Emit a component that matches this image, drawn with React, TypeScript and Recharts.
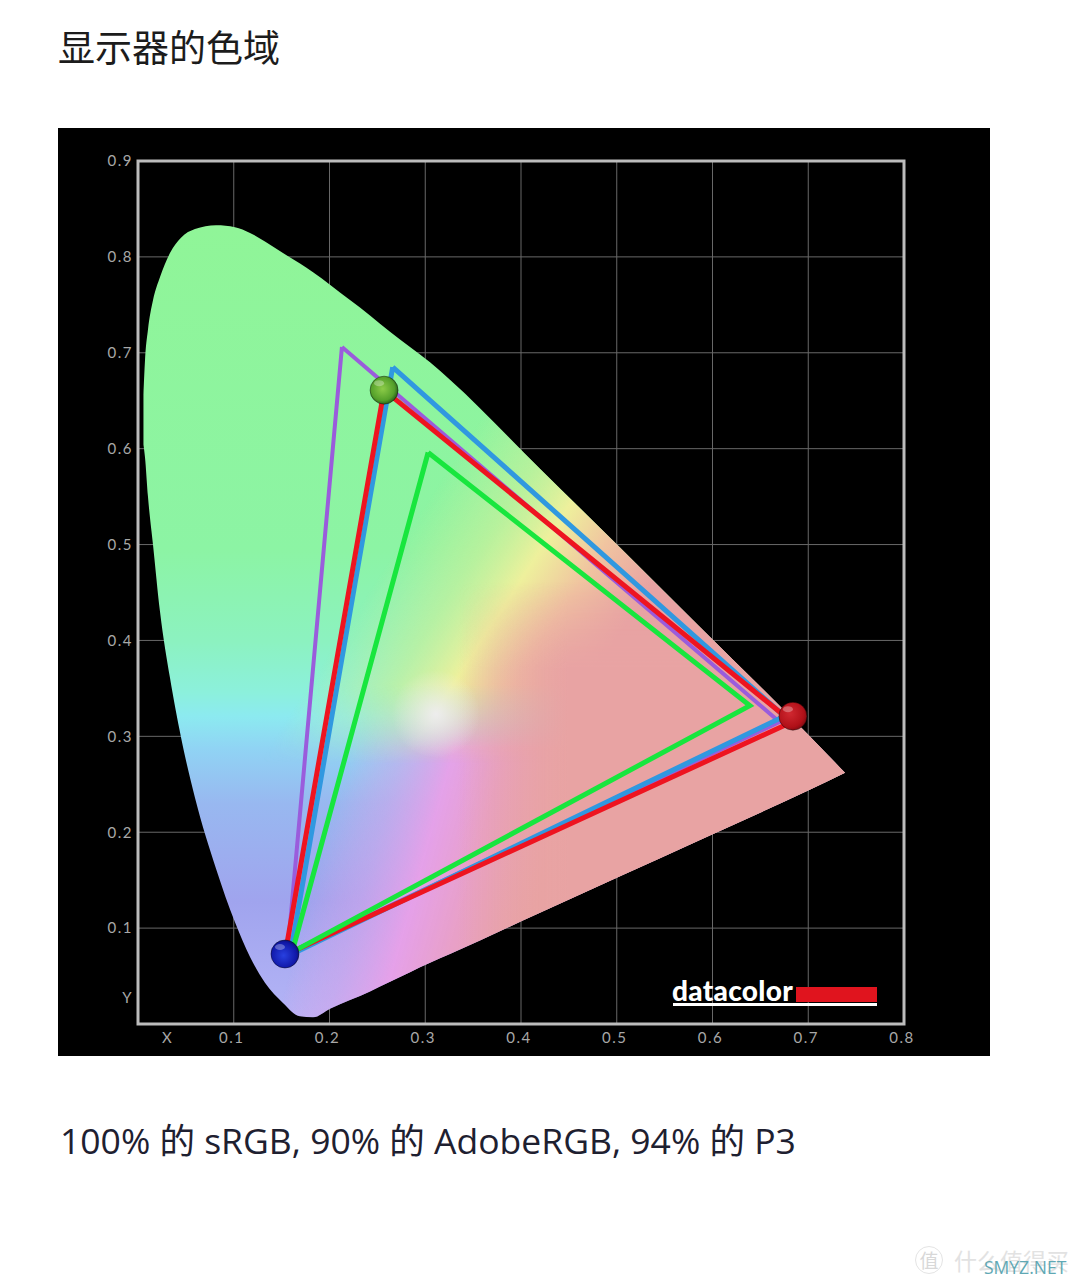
import {
  Area,
  CartesianGrid,
  ComposedChart,
  ReferenceArea,
  Scatter,
  XAxis,
  YAxis,
} from "recharts";

// horseshoe outline at shared x positions
const gamutX = [0.0057, 0.0073, 0.0104, 0.0157, 0.023, 0.0334, 0.0449, 0.0595, 0.0815, 0.1013, 0.117, 0.1326, 0.1514, 0.1692, 0.1828, 0.2005, 0.2214, 0.2423, 0.2632, 0.305, 0.3258, 0.4198, 0.5034, 0.5869, 0.6987, 0.7384];
const gamutHigh = [0.656, 0.692, 0.724, 0.755, 0.779, 0.804, 0.82, 0.829, 0.833, 0.831, 0.825, 0.816, 0.804, 0.793, 0.784, 0.771, 0.755, 0.739, 0.722, 0.69, 0.672, 0.579, 0.497, 0.414, 0.303, 0.262];
const gamutLow = [0.604, 0.591, 0.55, 0.4995, 0.43, 0.361, 0.299, 0.236, 0.162, 0.106, 0.07, 0.043, 0.022, 0.008, 0.007, 0.016, 0.025, 0.034, 0.044, 0.064, 0.073, 0.116, 0.154, 0.192, 0.243, 0.262];

// triangles: green corner, red corner, blue corner, back to green
const purpleTriangle = [[0.213, 0.706], [0.67, 0.315], [0.156, 0.073], [0.213, 0.706]];
const blueTriangle = [[0.266, 0.685], [0.675, 0.321], [0.159, 0.072], [0.266, 0.685]];
const redTriangle = [[0.257, 0.661], [0.683, 0.315], [0.1535, 0.072], [0.257, 0.661]];
const greenTriangle = [[0.303, 0.596], [0.639, 0.332], [0.161, 0.075], [0.303, 0.596]];

const primaries = [
  { x: 0.257, y: 0.661, ball: "ballGreen" },
  { x: 0.684, y: 0.321, ball: "ballRed" },
  { x: 0.1535, y: 0.073, ball: "ballBlue" },
];

const xTicks = [0.033, 0.1, 0.2, 0.3, 0.4, 0.5, 0.6, 0.7, 0.8];
const yTicks = [0.027, 0.1, 0.2, 0.3, 0.4, 0.5, 0.6, 0.7, 0.8, 0.9];
const gridX = [0.1, 0.2, 0.3, 0.4, 0.5, 0.6, 0.7];
const gridY = [0.1, 0.2, 0.3, 0.4, 0.5, 0.6, 0.7, 0.8];

const gamutData = gamutX.map((x, i) => ({ x, range: [gamutLow[i], gamutHigh[i]] }));
const toPoints = (rows: number[][]) => rows.map(([x, y]) => ({ x, y }));

const tickStyle = { fill: "#a8a8a8", fontSize: 15, fontFamily: "Lato", letterSpacing: 1.5 };

function hideDot() {
  return <g />;
}

function Ball(props: { cx?: number; cy?: number; payload?: { ball: string } }) {
  const { cx = 0, cy = 0, payload } = props;
  return (
    <g>
      <circle cx={cx} cy={cy} r={14} fill={`url(#${payload?.ball})`} stroke="#00000066" strokeWidth={1} />
      <ellipse cx={cx - 5} cy={cy - 7} rx={5} ry={3} fill="#ffffff" opacity={0.3} />
    </g>
  );
}

const layerProps = {
  data: gamutData,
  dataKey: "range",
  type: "monotone" as const,
  stroke: "none",
  fillOpacity: 1,
  isAnimationActive: false,
  dot: false,
  activeDot: false,
};

export default function App() {
  const triangles: [string, number[][], string, number][] = [
    ["purple", purpleTriangle, "#9a5cdc", 4],
    ["blue", blueTriangle, "#3098e0", 5],
    ["red", redTriangle, "#ee1420", 5],
    ["green", greenTriangle, "#18e63e", 5],
  ];

  return (
    <div style={{ position: "absolute", left: 0, top: 0, width: 1080, height: 1286, background: "#ffffff", overflow: "hidden" }}>
      <div style={{ position: "absolute", left: 58, top: 20, fontFamily: "'Noto Sans CJK SC'", fontSize: 37, lineHeight: "52px", color: "#1c1c1c" }}>
        显示器的色域
      </div>

      <div style={{ position: "absolute", left: 58, top: 128, width: 932, height: 928, background: "#000000" }}>
        <ComposedChart width={932} height={928} margin={{ top: 33, right: 86, bottom: 0, left: 0 }}>
          <defs>
            <linearGradient id="gamutBase" x1="0" y1="0" x2="0" y2="1">
              <stop offset="0" stopColor="#90f598" />
              <stop offset="0.41" stopColor="#8cf4a4" />
              <stop offset="0.525" stopColor="#8cf2c0" />
              <stop offset="0.59" stopColor="#8cf0dc" />
              <stop offset="0.62" stopColor="#8ceaf0" />
              <stop offset="0.66" stopColor="#90d4f4" />
              <stop offset="0.73" stopColor="#98b8f0" />
              <stop offset="0.854" stopColor="#a0a4ee" />
              <stop offset="1" stopColor="#b4b4f6" />
            </linearGradient>
            <linearGradient id="gamutMagenta" gradientUnits="userSpaceOnUse" x1={289} y1={636} x2={501} y2={695}>
              <stop offset="0" stopColor="#e8a0e8" stopOpacity={0} />
              <stop offset="0.22" stopColor="#d8a4ea" stopOpacity={0.5} />
              <stop offset="0.45" stopColor="#e8a0e8" stopOpacity={0.95} />
              <stop offset="0.68" stopColor="#e8a0c8" />
              <stop offset="1" stopColor="#e8a3a3" />
            </linearGradient>
            <linearGradient id="gamutYellow" gradientUnits="userSpaceOnUse" x1={341} y1={417} x2={537} y2={544}>
              <stop offset="0" stopColor="#c8f09a" stopOpacity={0} />
              <stop offset="0.3" stopColor="#c8f09a" stopOpacity={0.7} />
              <stop offset="0.52" stopColor="#eef09c" />
              <stop offset="0.74" stopColor="#f0c4a0" />
              <stop offset="1" stopColor="#e8a3a3" />
            </linearGradient>
            <linearGradient id="gamutPink" gradientUnits="userSpaceOnUse" x1={400} y1={0} x2={510} y2={0}>
              <stop offset="0" stopColor="#e8a3a3" stopOpacity={0} />
              <stop offset="1" stopColor="#e8a3a3" />
            </linearGradient>
            <radialGradient id="gamutWhite" gradientUnits="userSpaceOnUse" cx={378} cy={586} r={44}>
              <stop offset="0" stopColor="#f2eef6" stopOpacity={0.85} />
              <stop offset="0.5" stopColor="#f2eef6" stopOpacity={0.4} />
              <stop offset="1" stopColor="#f2eef6" stopOpacity={0} />
            </radialGradient>
            <linearGradient id="fadeBelow" x1="0" y1="0" x2="0" y2="1">
              <stop offset="0.58" stopColor="#ffffff" />
              <stop offset="0.68" stopColor="#000000" />
            </linearGradient>
            <linearGradient id="fadeAbove" x1="0" y1="0" x2="0" y2="1">
              <stop offset="0.58" stopColor="#000000" />
              <stop offset="0.66" stopColor="#ffffff" />
            </linearGradient>
            <linearGradient id="fadeTop" x1="0" y1="0" x2="0" y2="1">
              <stop offset="0.45" stopColor="#000000" />
              <stop offset="0.56" stopColor="#ffffff" />
            </linearGradient>
            <mask id="upperMask" maskUnits="objectBoundingBox" maskContentUnits="objectBoundingBox" x="0" y="0" width="1" height="1">
              <rect x="0" y="0" width="1" height="1" fill="url(#fadeBelow)" />
            </mask>
            <mask id="lowerMask" maskUnits="objectBoundingBox" maskContentUnits="objectBoundingBox" x="0" y="0" width="1" height="1">
              <rect x="0" y="0" width="1" height="1" fill="url(#fadeAbove)" />
            </mask>
            <mask id="pinkMask" maskUnits="objectBoundingBox" maskContentUnits="objectBoundingBox" x="0" y="0" width="1" height="1">
              <rect x="0" y="0" width="1" height="1" fill="url(#fadeTop)" />
            </mask>
            <radialGradient id="ballGreen" cx="0.45" cy="0.45" r="0.6">
              <stop offset="0" stopColor="#8ccc48" />
              <stop offset="0.7" stopColor="#54a02a" />
              <stop offset="1" stopColor="#1c5018" />
            </radialGradient>
            <radialGradient id="ballRed" cx="0.4" cy="0.4" r="0.7">
              <stop offset="0" stopColor="#d02830" />
              <stop offset="0.7" stopColor="#b01018" />
              <stop offset="1" stopColor="#700810" />
            </radialGradient>
            <radialGradient id="ballBlue" cx="0.45" cy="0.55" r="0.65">
              <stop offset="0" stopColor="#2840e0" />
              <stop offset="0.7" stopColor="#1018a8" />
              <stop offset="1" stopColor="#080c50" />
            </radialGradient>
          </defs>

          <XAxis
            type="number"
            dataKey="x"
            domain={[0, 0.8]}
            ticks={xTicks}
            interval={0}
            height={32}
            axisLine={false}
            tickLine={false}
            tick={{ ...tickStyle, dx: -2 }}
            tickFormatter={(v: number) => (v === 0.033 ? "X" : v.toFixed(1))}
          />
          <YAxis
            type="number"
            dataKey="y"
            domain={[0, 0.9]}
            ticks={yTicks}
            interval={0}
            width={80}
            axisLine={false}
            tickLine={false}
            tick={{ ...tickStyle, dx: 3 }}
            tickFormatter={(v: number) => (v === 0.027 ? "Y" : v.toFixed(1))}
          />
          <CartesianGrid stroke="#686868" strokeWidth={1} horizontalValues={gridY} verticalValues={gridX} />
          <ReferenceArea x1={0} x2={0.8} y1={0} y2={0.9} fill="none" stroke="#bcbcbc" strokeWidth={3} ifOverflow="visible" />

          <Area {...layerProps} fill="url(#gamutBase)" />
          <Area {...layerProps} fill="url(#gamutMagenta)" mask="url(#lowerMask)" />
          <Area {...layerProps} fill="url(#gamutYellow)" mask="url(#upperMask)" />
          <Area {...layerProps} fill="url(#gamutPink)" mask="url(#pinkMask)" />
          <Area {...layerProps} fill="url(#gamutWhite)" />

          {triangles.map(([name, rows, color, width]) => (
            <Scatter
              key={name}
              data={toPoints(rows)}
              line={{ stroke: color, strokeWidth: width, strokeLinejoin: "miter" }}
              shape={hideDot}
              isAnimationActive={false}
            />
          ))}
          <Scatter data={primaries} shape={Ball} isAnimationActive={false} />
        </ComposedChart>

        {/* logo */}
        <div style={{ position: "absolute", left: 614, top: 846, fontFamily: "Lato", fontWeight: 900, fontSize: 28, lineHeight: "32px", letterSpacing: 0.3, color: "#ffffff" }}>
          datacolor
        </div>
        <div style={{ position: "absolute", left: 738, top: 859, width: 81, height: 15, background: "#e0141e" }} />
        <div style={{ position: "absolute", left: 615, top: 875, width: 204, height: 3, background: "#ffffff" }} />
      </div>

      <div style={{ position: "absolute", left: 60, top: 1115, fontFamily: "'Open Sans', 'Noto Sans CJK SC'", fontSize: 35.5, lineHeight: "50px", color: "#1e2030", whiteSpace: "pre" }}>
        100% 的 sRGB, 90% 的 AdobeRGB, 94% 的 P3
      </div>

      {/* watermark */}
      <div style={{ position: "absolute", left: 915, top: 1246, width: 26, height: 26, border: "1px solid #e4e4e4", borderRadius: 14, fontFamily: "'Noto Sans CJK SC'", fontSize: 19, lineHeight: "26px", textAlign: "center", color: "#d8d8d8" }}>
        值
      </div>
      <div style={{ position: "absolute", left: 954, top: 1243, fontFamily: "'Noto Sans CJK SC'", fontSize: 23, lineHeight: "34px", color: "#e2e2e2", whiteSpace: "pre" }}>
        什么值得买
      </div>
      <div style={{ position: "absolute", left: 984, top: 1255, fontFamily: "'Open Sans'", fontSize: 17.5, lineHeight: "24px", color: "#5fa8b4" }}>
        SMYZ.NET
      </div>
    </div>
  );
}
